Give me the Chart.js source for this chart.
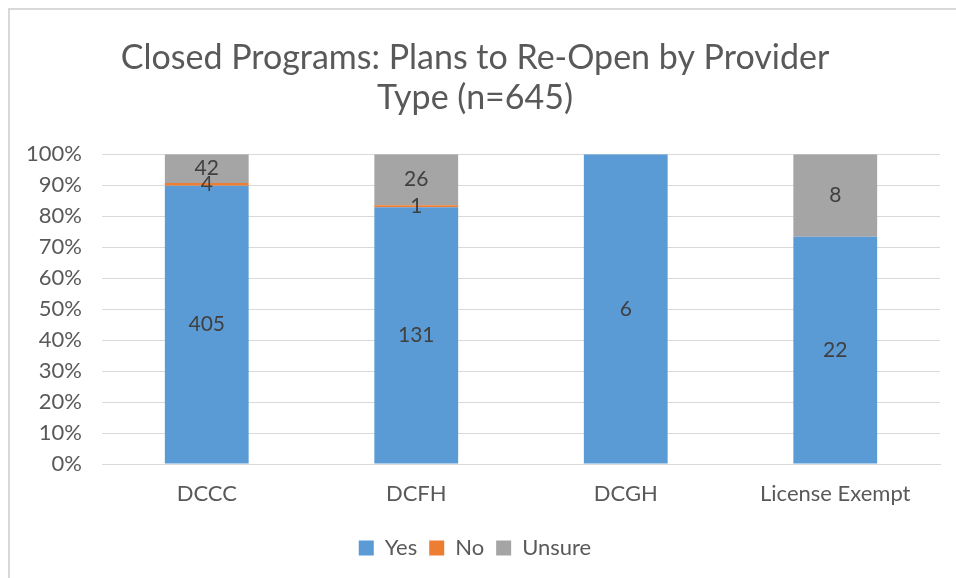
<!DOCTYPE html>
<html>
<head>
<meta charset="utf-8">
<script src="https://cdn.jsdelivr.net/npm/chart.js@4"></script>
<style>
  html, body { margin: 0; padding: 0; background: #ffffff; }
  #marco {
    position: absolute; left: 8px; top: 8px; width: 948px; height: 570px;
    border-top: 2px solid #d9d9d9; border-left: 2px solid #d9d9d9;
    box-sizing: border-box;
  }
  #lienzo { position: absolute; left: 0; top: 0; width: 956px; height: 578px; }
</style>
</head>
<body>
<div id="marco"></div>
<div id="lienzo"><canvas id="grafico" width="956" height="578"></canvas></div>
<script>
// Datos (conteos por tipo de proveedor)
const categorias = ['DCCC', 'DCFH', 'DCGH', 'License Exempt'];
const si = [405, 131, 6, 22];
const no = [4, 1, 0, 0];
const inseguro = [42, 26, 0, 8];
const ticksY = [0, 10, 20, 30, 40, 50, 60, 70, 80, 90, 100];

// Totales por categoría, para el 100% apilado
const totales = categorias.map((c, i) => si[i] + no[i] + inseguro[i]);
const pct = arr => arr.map((v, i) => v / totales[i] * 100);

const fuente = 'Lato, "Open Sans", sans-serif';

// Plugin sencillo para escribir el conteo en el centro de cada segmento
const etiquetas = {
  id: 'etiquetas',
  afterDatasetsDraw(chart) {
    const ctx = chart.ctx;
    ctx.save();
    ctx.font = '21px ' + fuente;
    ctx.fillStyle = '#404040';
    ctx.textAlign = 'center';
    ctx.textBaseline = 'middle';
    chart.data.datasets.forEach((ds, d) => {
      const meta = chart.getDatasetMeta(d);
      meta.data.forEach((el, i) => {
        const v = ds.conteos[i];
        if (!v) return;
        const y = (el.y + el.base) / 2;
        ctx.fillText(String(v), el.x, y);
      });
    });
    ctx.restore();
  }
};

const ctx = document.getElementById('grafico').getContext('2d');
const myChart = new Chart(ctx, {
  type: 'bar',
  data: {
    labels: categorias,
    datasets: [
      { label: 'Yes', data: pct(si), conteos: si, backgroundColor: '#5b9bd5' },
      { label: 'No', data: pct(no), conteos: no, backgroundColor: '#ed7d31' },
      { label: 'Unsure', data: pct(inseguro), conteos: inseguro, backgroundColor: '#a5a5a5' }
    ]
  },
  options: {
    responsive: false,
    animation: false,
    layout: { padding: { left: 10, right: 16, top: 0, bottom: 9 } },
    datasets: { bar: { categoryPercentage: 1, barPercentage: 0.4 } },
    plugins: {
      title: {
        display: true,
        text: ['Closed Programs: Plans to Re-Open by Provider', 'Type (n=645)'],
        color: '#595959',
        font: { family: fuente, size: 34, weight: 'normal', lineHeight: 1.18 },
        padding: { top: 38, bottom: 36 }
      },
      legend: {
        position: 'bottom',
        labels: {
          color: '#595959',
          boxWidth: 15, boxHeight: 15,
          padding: 12,
          font: { family: fuente, size: 22 }
        }
      },
      tooltip: { enabled: false }
    },
    scales: {
      x: {
        stacked: true,
        grid: { display: false },
        border: { color: '#d9d9d9' },
        ticks: { color: '#595959', padding: 9, font: { family: fuente, size: 22 } },
        afterFit: s => { s.height = 61; }
      },
      y: {
        stacked: true,
        min: 0, max: 100,
        afterBuildTicks: s => { s.ticks = ticksY.map(v => ({ value: v })); },
        grid: { color: '#d9d9d9', drawTicks: false },
        border: { display: false },
        ticks: {
          color: '#595959', padding: 20,
          font: { family: fuente, size: 22 },
          callback: v => v + '%'
        },
        afterFit: s => { s.width = 92; }
      }
    }
  },
  plugins: [etiquetas]
});
</script>
</body>
</html>
